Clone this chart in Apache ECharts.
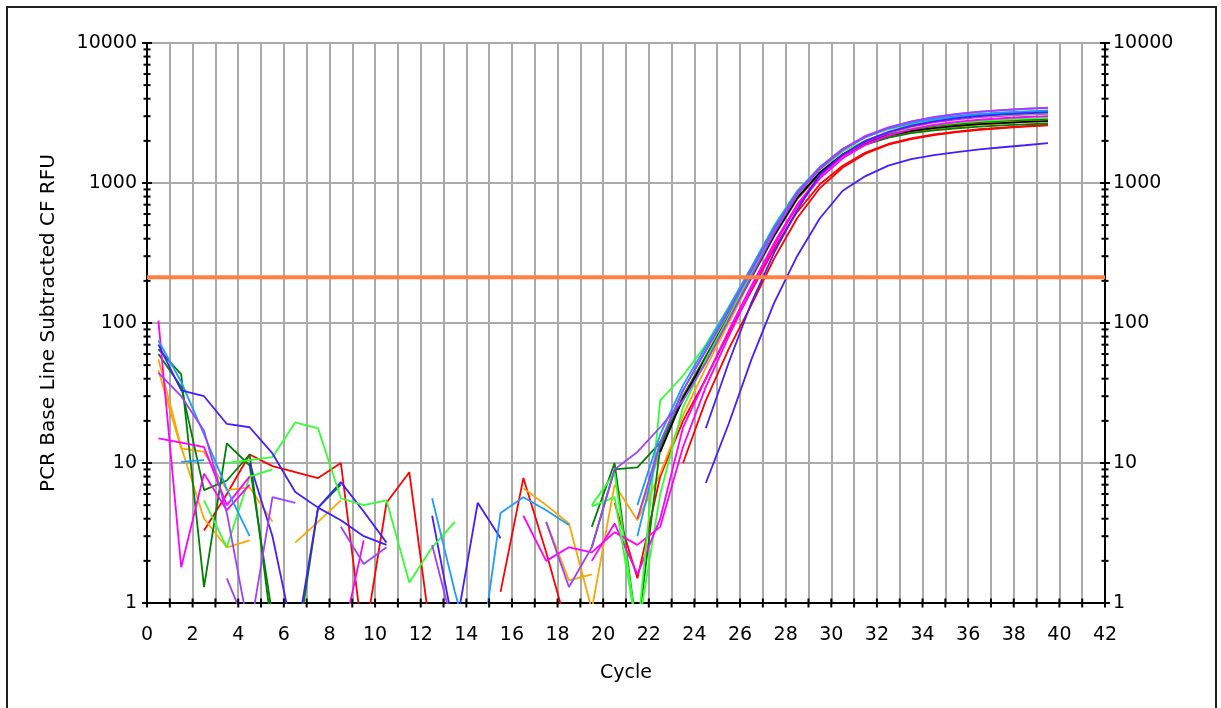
<!DOCTYPE html>
<html><head><meta charset="utf-8">
<script src="https://cdn.jsdelivr.net/npm/echarts@6/dist/echarts.min.js"></script>
<style>html,body{margin:0;padding:0;background:#fff}#c{width:1221px;height:708px}</style>
</head><body><div id="c"></div>
<script>
// x positions of the plotted cycles
const cycles = [0.5,1.5,2.5,3.5,4.5,5.5,6.5,7.5,8.5,9.5,10.5,11.5,12.5,13.5,14.5,15.5,16.5,17.5,18.5,19.5,
  20.5,21.5,22.5,23.5,24.5,25.5,26.5,27.5,28.5,29.5,30.5,31.5,32.5,33.5,34.5,35.5,36.5,37.5,38.5,39.5];

// RFU values per well (null = no value / negative after baseline subtraction)
const red1 = [null,null,3.3,6,11.5,9.5,8.6,7.8,10,0.5,5.2,8.6,0.5,null,null,1.2,7.8,2.3,0.6,null,
  5.2,1.5,8,20,40,85,170,340,620,980,1330,1650,1900,2080,2220,2330,2420,2490,2550,2600];
const red2 = [null,null,null,null,null,null,null,null,null,null,null,null,null,null,null,null,null,null,null,null,
  null,null,null,10,28,65,135,290,560,920,1290,1620,1880,2060,2200,2310,2400,2470,2530,2580];
const orange1 = [55,13,4,2.5,2.8,null,2.7,3.8,5.4,null,null,null,null,null,null,null,6.6,5,3.7,0.9,
  7,3.9,8.4,22,48,100,210,420,760,1150,1550,1880,2120,2300,2430,2530,2610,2680,2730,2780];
const orange2 = [46,12.7,12,6.4,6.7,3.8,null,null,null,null,null,null,null,null,null,null,null,3.8,1.45,1.6,
  null,4,12,30,58,115,225,440,790,1200,1600,1950,2200,2380,2510,2610,2690,2750,2800,2850];
const lime1 = [null,null,null,10,10.5,11,19.5,17.7,5.6,5.0,5.4,1.4,2.5,3.8,null,null,null,null,null,4.9,
  5.7,0.6,28,42,70,130,250,500,880,1300,1750,2120,2420,2620,2780,2900,2990,3060,3110,3150];
const lime2 = [null,null,5.4,2.5,8,9,null,null,null,null,null,null,null,null,null,null,null,null,null,5,
  8.5,0.6,6,25,55,110,225,450,820,1250,1680,2020,2280,2460,2590,2690,2770,2830,2880,2920];
const dkgreen1 = [65,43,1.3,13.8,9.6,0.8,0.4,4.8,7,null,null,null,null,null,null,null,null,null,null,3.5,
  10,0.6,13,30,58,112,220,430,780,1170,1560,1880,2110,2270,2380,2460,2530,2580,2620,2660];
const dkgreen2 = [60,35,6.4,7.5,11.5,0.6,null,null,null,null,null,null,null,null,null,null,null,null,null,2.5,
  9,9.3,14,28,55,108,210,420,770,1180,1600,1960,2230,2420,2550,2650,2720,2780,2830,2870];
const blue1 = [70,33,30,19,18,11.7,6.2,4.8,3.9,3,2.6,null,null,null,null,null,null,null,null,null,
  null,null,null,null,17.7,52,140,320,640,1150,1600,2000,2320,2570,2760,2900,3010,3090,3150,3200];
const blue2 = [null,null,null,null,10,3,0.5,4.8,7.3,4.5,2.7,null,4.2,0.6,5.2,2.9,null,null,null,null,
  null,null,null,null,7.2,19,55,140,300,560,880,1120,1330,1480,1580,1660,1740,1800,1860,1930];
const sky1 = [75,38,16,6.5,3,null,null,null,null,null,null,null,5.6,1.2,0.3,4.4,5.7,4.6,3.6,null,
  null,5,16,36,68,128,250,490,870,1300,1750,2130,2450,2680,2850,2980,3070,3150,3210,3260];
const sky2 = [null,10.2,10.5,null,null,null,null,null,null,null,null,null,null,null,null,null,null,null,null,null,
  null,3,14,33,63,120,235,470,850,1290,1740,2140,2460,2700,2880,3010,3110,3190,3250,3300];
const magenta1 = [104,1.8,8.4,4.6,7,null,null,null,0.5,2.8,null,null,null,null,null,null,4.2,2,2.5,2.3,
  3.2,2.6,3.5,13,35,80,175,360,680,1080,1500,1880,2180,2420,2600,2730,2830,2900,2960,3000];
const magenta2 = [15,14,13,5,8,null,null,null,null,null,null,null,null,null,null,null,null,null,null,2,
  3.7,1.6,4,18,40,88,185,375,700,1120,1560,1960,2280,2530,2710,2850,2950,3020,3080,3120];
const purple1 = [44,30,17,4.4,0.6,5.7,5.2,null,3.5,1.9,2.5,null,2.6,0.6,null,null,null,3.8,1.3,2.5,
  9,12,18,28,52,105,215,440,820,1260,1720,2130,2470,2740,2950,3100,3220,3310,3380,3450];
const purple2 = [null,null,null,1.5,0.6,null,null,null,null,null,null,null,null,null,null,null,null,null,null,null,
  null,4,14,33,64,122,240,470,850,1290,1750,2170,2500,2760,2960,3110,3230,3320,3390,3440];
const black1 = [null,null,null,null,null,null,null,null,null,null,null,null,null,null,null,null,null,null,null,null,
  null,null,12,29,56,110,215,425,780,1190,1600,1930,2180,2350,2470,2560,2630,2680,2730,2770];

const threshold = 212;
const xRange = [0, 42];
const yTickValues = [1, 10, 100, 1000, 10000];
const yMinorTickValues = [2,3,4,5,6,7,8,9,20,30,40,50,60,70,80,90,200,300,400,500,600,700,800,900,
  2000,3000,4000,5000,6000,7000,8000,9000];
const xTickValues = [0,1,2,3,4,5,6,7,8,9,10,11,12,13,14,15,16,17,18,19,20,21,22,23,24,25,26,27,28,29,30,
  31,32,33,34,35,36,37,38,39,40,41,42];

const wells = [
  ['red1', red1, '#ff0000'], ['red2', red2, '#ff0000'],
  ['orange1', orange1, '#ffa500'], ['orange2', orange2, '#ffa500'],
  ['dkgreen1', dkgreen1, '#008000'], ['dkgreen2', dkgreen2, '#008000'],
  ['black1', black1, '#000000'],
  ['blue2', blue2, '#4020ff'],
  ['lime2', lime2, '#33ff33'],
  ['magenta1', magenta1, '#ff00ff'], ['magenta2', magenta2, '#ff00ff'],
  ['lime1', lime1, '#33ff33'],
  ['sky1', sky1, '#1e9bff'], ['sky2', sky2, '#1e9bff'],
  ['blue1', blue1, '#4020ff'],
  ['purple1', purple1, '#a040ff'], ['purple2', purple2, '#a040ff']
];

const FONT = 'DejaVu Sans';
const series = wells.map(([name, vals, color]) => ({
  name, type: 'line', showSymbol: false, symbol: 'none', clip: true, connectNulls: false,
  lineStyle: { color, width: 1.8 }, itemStyle: { color },
  data: cycles.map((c, i) => [c, vals[i] == null ? '-' : vals[i]]),
  z: 3, silent: true
}));

series.push({
  name: 'threshold', type: 'line', showSymbol: false, symbol: 'none', silent: true,
  lineStyle: { color: '#ff8040', width: 4 }, z: 4,
  data: [[xRange[0], threshold], [xRange[1], threshold]]
});

// tick marks crossing the axes: [x, y, halfLength, orientation(0 = horizontal, 1 = vertical)]
const tickData = [];
yTickValues.forEach(v => { tickData.push([xRange[0], v, 5, 0]); tickData.push([xRange[1], v, 5, 0]); });
yMinorTickValues.forEach(v => { tickData.push([xRange[0], v, 3.5, 0]); tickData.push([xRange[1], v, 3.5, 0]); });
xTickValues.forEach(c => tickData.push([c, 1, 4.5, 1]));

series.push({
  type: 'custom', silent: true, clip: false, z: 6,
  data: tickData,
  encode: { x: 0, y: 1 },
  renderItem: (params, api) => {
    const p = api.coord([api.value(0), api.value(1)]);
    const h = api.value(2);
    const vert = api.value(3) === 1;
    return {
      type: 'line',
      shape: vert ? { x1: p[0], y1: p[1] - h, x2: p[0], y2: p[1] + h }
                  : { x1: p[0] - h, y1: p[1], x2: p[0] + h, y2: p[1] },
      style: { stroke: '#000', lineWidth: 2 }
    };
  }
});

const chart = echarts.init(document.getElementById('c'), null, { renderer: 'canvas' });
const labelStyle = { color: '#000', fontFamily: FONT, fontSize: 19 };
chart.setOption({
  animation: false,
  backgroundColor: '#ffffff',
  graphic: [{
    type: 'rect', shape: { x: 7, y: 7, width: 1209, height: 720 },
    style: { fill: 'none', stroke: '#202020', lineWidth: 2 }, z: 0, silent: true
  }],
  grid: { left: 147, right: 116, top: 43, bottom: 105, containLabel: false },
  xAxis: {
    type: 'value', min: xRange[0], max: xRange[1], interval: 2,
    name: 'Cycle', nameLocation: 'middle', nameGap: 61,
    nameTextStyle: { color: '#000', fontFamily: FONT, fontSize: 19 },
    axisLine: { show: true, onZero: false, lineStyle: { color: '#000', width: 2 } },
    axisTick: { show: false },
    axisLabel: Object.assign({ margin: 23 }, labelStyle),
    splitLine: { show: true, lineStyle: { color: '#aaaaaa', width: 2 } },
    minorTick: { show: false, splitNumber: 2 },
    minorSplitLine: { show: true, lineStyle: { color: '#aaaaaa', width: 2 } }
  },
  yAxis: [{
    type: 'log', logBase: 10, min: 1, max: 10000, splitNumber: 4,
    name: 'PCR Base Line Subtracted CF RFU', nameLocation: 'middle', nameGap: 88, nameRotate: 90,
    nameTextStyle: { color: '#000', fontFamily: FONT, fontSize: 20 },
    axisLine: { show: true, lineStyle: { color: '#000', width: 2 } },
    axisTick: { show: false },
    axisLabel: Object.assign({ margin: 10, formatter: v => String(v) }, labelStyle),
    splitLine: { show: true, lineStyle: { color: '#aaaaaa', width: 2 } }
  }, {
    type: 'log', logBase: 10, min: 1, max: 10000, splitNumber: 4, position: 'right',
    axisLine: { show: true, lineStyle: { color: '#000', width: 2 } },
    axisTick: { show: false },
    axisLabel: Object.assign({ margin: 8, formatter: v => String(v) }, labelStyle),
    splitLine: { show: false }
  }],
  series
});
</script>
</body></html>
